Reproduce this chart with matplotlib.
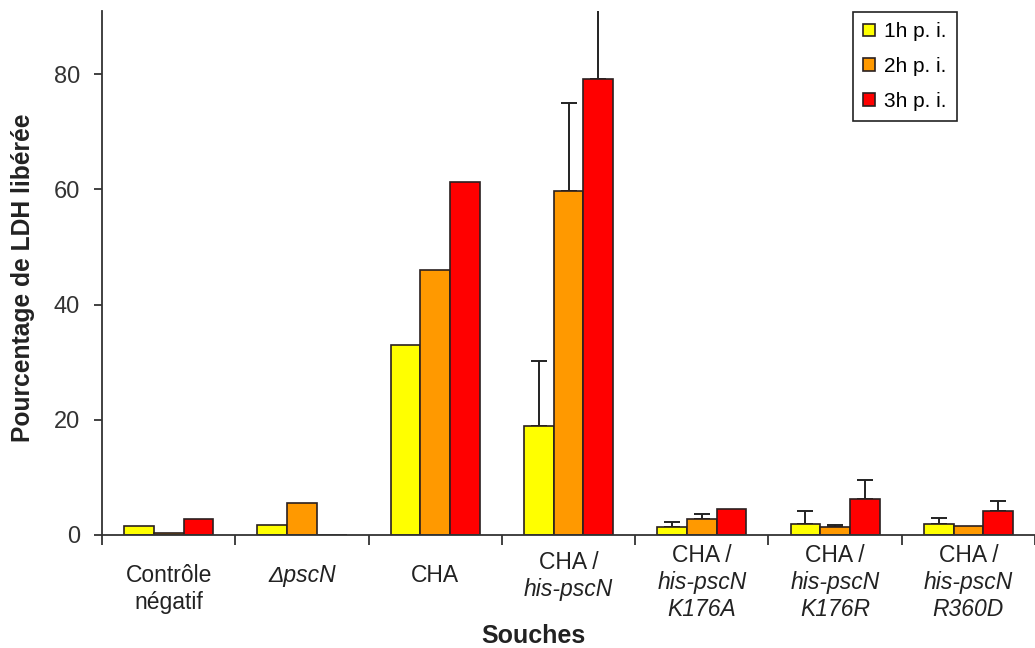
import numpy as np
import matplotlib
matplotlib.use("Agg")
from matplotlib import pyplot as plt

plt.rcParams['font.family'] = ['Liberation Sans', 'DejaVu Sans']

# Souches (chaque ligne du label: texte, italique ou non)
strains = [
    [("Contrôle", False), ("négatif", False)],
    [("ΔpscN", True)],
    [("CHA", False)],
    [("CHA /", False), ("his-pscN", True)],
    [("CHA /", False), ("his-pscN", True), ("K176A", True)],
    [("CHA /", False), ("his-pscN", True), ("K176R", True)],
    [("CHA /", False), ("his-pscN", True), ("R360D", True)],
]
series_names = ["1h p. i.", "2h p. i.", "3h p. i."]

# Pourcentage de LDH libérée
h1 = [1.5, 1.8, 33.0, 19.0, 1.3, 1.85, 1.85]
h2 = [0.3, 5.6, 46.0, 59.7, 2.8, 1.3, 1.55]
h3 = [2.7, 0.0, 61.3, 79.2, 4.5, 6.2, 4.2]

# ecarts (barre superieure seulement)
err1 = [0, 0, 0, 11.2, 0.9, 2.35, 1.15]
err2 = [0, 0, 0, 15.3, 0.8, 0.5, 0]
err3 = [0, 0, 0, 15.0, 0, 3.3, 1.7]

colors = ['#FFFF00', '#FF9900', '#FF0000']
edge = '#2a2020'

fig = plt.figure(figsize=(10.35, 6.48), dpi=100)
ax = fig.add_axes([0.0986, 0.1744, 0.9014, 0.8092])

x = np.arange(len(strains))
w = 0.223
for k, (vals, errs) in enumerate(zip([h1, h2, h3], [err1, err2, err3])):
    vals = np.array(vals)
    errs = np.array(errs)
    pos = x + (k - 1) * w
    ax.bar(pos, vals, width=w, color=colors[k], edgecolor=edge, linewidth=1.2,
           label=series_names[k], zorder=2)
    m = errs > 0
    ax.errorbar(pos[m], vals[m], yerr=[np.zeros(m.sum()), errs[m]], fmt='none',
                ecolor='#222222', elinewidth=1.4, capsize=6, capthick=1.4, zorder=1)

ax.set_xlim(-0.5, 6.437)
ax.set_ylim(0, 91)
ax.set_yticks([0, 20, 40, 60, 80])
ax.set_xticks(np.arange(-0.5, 7, 1.0))
ax.set_xticklabels([])

for s in ['top', 'right']:
    ax.spines[s].set_visible(False)
for s in ['left', 'bottom']:
    ax.spines[s].set_color('#333333')
    ax.spines[s].set_linewidth(1.3)

ax.tick_params(axis='y', length=6, width=1.3, color='#333333', pad=10,
               labelsize=17, labelcolor='#333333')
ax.tick_params(axis='x', length=7, width=1.3, color='#333333')

# labels des souches, ligne par ligne
first_line = [41, 41, 41, 28, 21, 21, 21]
line_step = 27
for i, lines in enumerate(strains):
    for j, (txt, ital) in enumerate(lines):
        ax.annotate(txt, xy=(i, 0), xycoords=('data', 'axes fraction'),
                    xytext=(0, -(first_line[i] + j * line_step)),
                    textcoords='offset pixels', ha='center', va='center',
                    fontsize=16.5, color='#222222',
                    style='italic' if ital else 'normal')

fig.text(533 / 1035, 1 - 636 / 648, "Souches", ha='center', va='center',
         fontsize=18, fontweight='bold', color='#222222')
fig.text(23 / 1035, 1 - 278 / 648, "Pourcentage de LDH libérée", rotation=90,
         ha='center', va='center', fontsize=17.7, fontweight='bold', color='#222222')

leg = ax.legend(loc='upper right', bbox_to_anchor=(957 / 1035, 1 - 12 / 648),
                bbox_transform=fig.transFigure, borderaxespad=0,
                fontsize=15, handlelength=0.55, handleheight=0.55,
                handletextpad=0.45, labelspacing=0.75, borderpad=0.5,
                fancybox=False, framealpha=1, edgecolor='#222222')
leg.get_frame().set_linewidth(1.2)

fig.savefig('out.png', dpi=100)
